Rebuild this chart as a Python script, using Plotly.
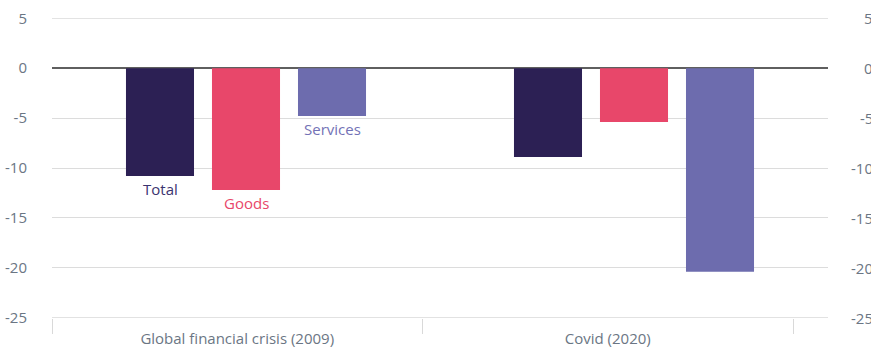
import plotly.graph_objects as go

# Change in trade volumes during two downturns (%)
episodes = ["Global financial crisis (2009)", "Covid (2020)"]
series = ["Total", "Goods", "Services"]
values = {
    "Total": [-10.8, -8.9],
    "Goods": [-12.2, -5.4],
    "Services": [-4.8, -20.4],
}
colors = {"Total": "#2c2054", "Goods": "#e8476a", "Services": "#6d6cae"}
label_colors = {"Total": "#3b3470", "Goods": "#e8476a", "Services": "#7372b6"}
y_ticks = [5, 0, -5, -10, -15, -20, -25]
y_range = [-25.03, 5.03]

FONT = "'Open Sans', Lato, sans-serif"
TICK_GREY = "#6b7684"
GRID = "#dcdcdc"

fig = go.Figure()
for s in series:
    fig.add_trace(go.Bar(
        x=episodes, y=values[s], name=s,
        marker=dict(color=colors[s], line=dict(width=0)),
        showlegend=False, hoverinfo="y",
    ))

# invisible trace that carries the category axis with boundary ticks
fig.add_trace(go.Scatter(
    x=episodes, y=[0, 0], xaxis="x2", mode="markers",
    marker=dict(opacity=0), showlegend=False, hoverinfo="skip",
))

# series labels under the first group of bars
for i, s in enumerate(series):
    fig.add_annotation(
        x=episodes[0], y=values[s][0], xref="x", yref="y",
        xshift=(i - 1) * 86, yshift=-1,
        text=s, showarrow=False, yanchor="top",
        font=dict(family=FONT, size=15, color=label_colors[s], weight=500),
    )

# gridlines at the top and bottom of the value range
for v in (y_ticks[0], y_ticks[-1]):
    fig.add_shape(type="line", xref="paper", yref="y", x0=0, x1=1, y0=v, y1=v,
                  line=dict(color=GRID, width=1), layer="below")

# right-hand value labels, right-aligned
for v in y_ticks:
    fig.add_annotation(
        x=1, xref="paper", y=v, yref="y", xshift=47,
        text=str(v), showarrow=False, xanchor="right", yanchor="middle",
        font=dict(family=FONT, size=15, color=TICK_GREY),
    )

fig.update_layout(
    width=871, height=351,
    margin=dict(l=52, r=43, t=18, b=33, autoexpand=False),
    paper_bgcolor="white", plot_bgcolor="white",
    barmode="group", bargap=0.335, bargroupgap=0.209,
    font=dict(family=FONT, size=15, color=TICK_GREY),
    xaxis=dict(
        type="category", categoryarray=episodes, range=[-0.5, 1.5],
        showticklabels=False, ticks="", showgrid=False, zeroline=False,
        showline=False, automargin=False,
    ),
    xaxis2=dict(
        type="category", categoryarray=episodes, overlaying="x",
        anchor="y", side="bottom",
        range=[-0.5, 1.5 + 35 / 370.5],
        tickson="boundaries", ticks="outside", ticklen=15,
        tickcolor="#d9d9d9", tickwidth=1, ticklabelstandoff=10,
        showgrid=False, zeroline=False, showline=False, automargin=False,
        tickfont=dict(family=FONT, size=15, color=TICK_GREY),
    ),
    yaxis=dict(
        range=y_range, tickvals=y_ticks, ticktext=[str(v) for v in y_ticks],
        showgrid=True, gridcolor=GRID, gridwidth=1,
        zeroline=True, zerolinecolor="#5f5f5f", zerolinewidth=2,
        ticks="outside", ticklen=21, tickcolor="rgba(0,0,0,0)",
        showline=False, automargin=False,
        tickfont=dict(family=FONT, size=15, color=TICK_GREY),
    ),
)

fig.write_html("out.html")
